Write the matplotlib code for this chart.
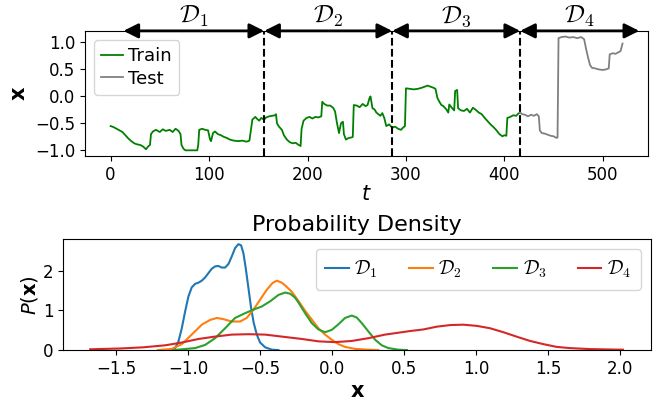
import numpy as np
import matplotlib.pyplot as plt
from matplotlib.font_manager import FontProperties

# time series (train part, then test part)
train_t = [0, 3, 6, 9, 12, 15, 18, 21, 24, 27, 30, 33, 36, 38, 40, 41, 43, 46, 50, 53,
           56, 60, 63, 66, 69, 71, 72, 74, 76, 88, 89, 90, 93, 96, 99, 101, 102, 104, 106, 109,
           112, 115, 118, 121, 125, 130, 134, 138, 141, 143, 144, 147, 149, 151, 153, 156, 158, 161, 164, 167,
           168, 169, 171, 174, 176, 179, 182, 185, 188, 191, 193, 194, 196, 199, 202, 205, 208, 211, 214, 215,
           217, 220, 223, 226, 228, 230, 232, 234, 236, 237, 239, 242, 245, 246, 247, 250, 253, 256, 259, 261,
           263, 264, 266, 268, 270, 272, 274, 276, 278, 280, 283, 286, 289, 292, 295, 297, 299, 300, 304, 308,
           312, 316, 319, 322, 325, 328, 330, 332, 334, 336, 338, 341, 343, 344, 347, 349, 350, 352, 353, 356,
           359, 362, 365, 368, 371, 374, 377, 380, 383, 386, 389, 392, 395, 398, 400, 402, 403, 406, 409, 412,
           414, 416]
train_x = [-0.55, -0.57, -0.60, -0.63, -0.66, -0.72, -0.78, -0.83, -0.87, -0.89, -0.90, -0.93, -0.98, -0.93, -0.90, -0.70, -0.65, -0.62, -0.66, -0.61,
           -0.64, -0.62, -0.66, -0.60, -0.64, -0.70, -0.90, -0.97, -1.00, -1.00, -0.90, -0.62, -0.60, -0.62, -0.63, -0.80, -0.83, -0.68, -0.65, -0.70,
           -0.72, -0.75, -0.77, -0.80, -0.82, -0.83, -0.82, -0.84, -0.82, -0.55, -0.43, -0.38, -0.42, -0.45, -0.40, -0.43, -0.39, -0.37, -0.36, -0.35,
           -0.33, -0.50, -0.56, -0.62, -0.72, -0.80, -0.85, -0.87, -0.86, -0.90, -0.92, -0.60, -0.45, -0.40, -0.38, -0.41, -0.38, -0.39, -0.37, -0.10,
           -0.14, -0.17, -0.17, -0.21, -0.28, -0.50, -0.68, -0.50, -0.47, -0.70, -0.80, -0.77, -0.76, -0.75, -0.16, -0.17, -0.20, -0.14, -0.18, -0.16,
           -0.03, 0.00, -0.22, -0.24, -0.30, -0.33, -0.36, -0.31, -0.40, -0.55, -0.52, -0.58, -0.56, -0.60, -0.62, -0.58, -0.55, 0.15, 0.14, 0.13,
           0.14, 0.16, 0.18, 0.20, 0.18, 0.16, 0.14, -0.03, -0.10, -0.16, -0.18, -0.24, -0.30, -0.15, -0.22, -0.26, 0.10, 0.12, -0.22, -0.26,
           -0.27, -0.23, -0.30, -0.21, -0.25, -0.30, -0.33, -0.40, -0.46, -0.52, -0.57, -0.63, -0.70, -0.74, -0.72, -0.73, -0.40, -0.38, -0.35, -0.36,
           -0.32, -0.30]
test_t = [416, 418, 421, 424, 427, 430, 433, 435, 436, 438, 441, 444, 447, 450, 453, 454, 455, 458, 462, 466,
          470, 474, 478, 481, 483, 485, 487, 489, 492, 496, 500, 503, 506, 507, 510, 513, 516, 518, 520]
test_x = [-0.30, -0.33, -0.34, -0.37, -0.34, -0.36, -0.33, -0.37, -0.63, -0.68, -0.69, -0.71, -0.73, -0.74, -0.77, -0.76, 1.08, 1.10, 1.11, 1.09,
          1.10, 1.08, 1.10, 1.06, 0.88, 0.72, 0.58, 0.53, 0.52, 0.50, 0.49, 0.50, 0.52, 0.78, 0.80, 0.79, 0.82, 0.84, 0.98]

bounds = [156, 286, 416]
arrow_ends = [13, 156, 286, 416, 537]
seg_labels = [r'$\mathcal{D}_1$', r'$\mathcal{D}_2$', r'$\mathcal{D}_3$', r'$\mathcal{D}_4$']

# density curves
d1_x = [-1.12, -1.09, -1.067, -1.044, -1.021, -0.998, -0.975, -0.951, -0.928, -0.905, -0.882, -0.859, -0.836, -0.8125,
        -0.79, -0.766, -0.743, -0.72, -0.697, -0.674, -0.651, -0.632, -0.616, -0.60, -0.581, -0.5625, -0.544, -0.523,
        -0.50, -0.465, -0.419, -0.373]
d1_y = [0.0, 0.05, 0.22, 0.55, 0.97, 1.35, 1.58, 1.67, 1.70, 1.75, 1.83, 1.94, 2.05, 2.11,
        2.12, 2.08, 2.08, 2.17, 2.36, 2.57, 2.67, 2.64, 2.44, 2.07, 1.56, 1.06, 0.68, 0.39,
        0.19, 0.07, 0.01, 0.0]
d2_x = [-1.21, -1.113, -1.044, -0.975, -0.905, -0.847, -0.80, -0.755, -0.697, -0.639, -0.593, -0.546, -0.50, -0.454,
        -0.414, -0.384, -0.35, -0.326, -0.28, -0.234, -0.1875, -0.141, -0.095, -0.049, -0.002, 0.044, 0.09, 0.16,
        0.252, 0.32]
d2_y = [0.0, 0.03, 0.15, 0.39, 0.64, 0.76, 0.81, 0.78, 0.72, 0.72, 0.81, 1.02, 1.27, 1.52,
        1.69, 1.75, 1.70, 1.63, 1.47, 1.24, 0.99, 0.77, 0.55, 0.39, 0.26, 0.15, 0.08, 0.03,
        0.01, 0.0]
d3_x = [-1.10, -0.951, -0.882, -0.8125, -0.743, -0.674, -0.604, -0.546, -0.488, -0.43, -0.373, -0.326, -0.29, -0.257,
        -0.234, -0.1875, -0.141, -0.095, -0.049, -0.002, 0.044, 0.09, 0.137, 0.171, 0.206, 0.252, 0.299, 0.345,
        0.391, 0.46, 0.52]
d3_y = [0.0, 0.05, 0.13, 0.30, 0.55, 0.81, 0.93, 1.02, 1.10, 1.23, 1.39, 1.45, 1.42, 1.32,
        1.20, 0.93, 0.68, 0.52, 0.45, 0.51, 0.65, 0.81, 0.87, 0.82, 0.68, 0.47, 0.26, 0.12,
        0.05, 0.01, 0.0]
d4_x = [-1.68, -1.47, -1.31, -1.16, -1.044, -0.928, -0.8125, -0.697, -0.58, -0.465, -0.35, -0.21, -0.095, 0.02,
        0.137, 0.252, 0.368, 0.484, 0.542, 0.634, 0.727, 0.819, 0.912, 1.005, 1.097, 1.19, 1.28, 1.375,
        1.467, 1.56, 1.65, 1.79, 1.93, 2.02]
d4_y = [0.02, 0.04, 0.07, 0.12, 0.19, 0.28, 0.34, 0.39, 0.40, 0.39, 0.34, 0.28, 0.22, 0.20,
        0.23, 0.30, 0.39, 0.45, 0.48, 0.52, 0.59, 0.63, 0.64, 0.61, 0.55, 0.45, 0.34, 0.23,
        0.15, 0.08, 0.05, 0.025, 0.015, 0.01]

fig = plt.figure(figsize=(6.54, 4.01), dpi=100)
ax1 = fig.add_axes([0.130, 0.611, 0.861, 0.312])
ax2 = fig.add_axes([0.097, 0.127, 0.898, 0.276])

ax1.plot(train_t, train_x, color='green', lw=1.3, label='Train')
ax1.plot(test_t, test_x, color='gray', lw=1.3, label='Test')
for b in bounds:
    ax1.axvline(b, color='black', ls='--', lw=1.5)
ax1.set_xlim(-26, 546)
ax1.set_ylim(-1.105, 1.215)
ax1.set_yticks([-1.0, -0.5, 0.0, 0.5, 1.0])
ax1.tick_params(labelsize=12)
ax1.set_xlabel(r'$t$', fontsize=15, labelpad=0)
ax1.set_ylabel(r'$\mathbf{x}$', fontsize=15)
ax1.legend(loc='upper left', fontsize=13, handlelength=1.2, handletextpad=0.3,
           borderaxespad=0.5, labelspacing=0.25, borderpad=0.4)

ytop = ax1.get_ylim()[1]
for i in range(4):
    a, b = arrow_ends[i], arrow_ends[i + 1]
    ax1.annotate('', xy=(a, ytop), xytext=(b, ytop), annotation_clip=False,
                 arrowprops=dict(arrowstyle='<|-|>', color='black', lw=2,
                                 mutation_scale=22, shrinkA=0, shrinkB=0))
    ax1.text((a + b) / 2, ytop + 0.03, seg_labels[i], ha='center', va='bottom',
             fontsize=18, math_fontfamily='cm')

ax2.plot(d1_x, d1_y, color='C0', lw=1.5, label=seg_labels[0])
ax2.plot(d2_x, d2_y, color='C1', lw=1.5, label=seg_labels[1])
ax2.plot(d3_x, d3_y, color='C2', lw=1.5, label=seg_labels[2])
ax2.plot(d4_x, d4_y, color='C3', lw=1.5, label=seg_labels[3])
ax2.set_xlim(-1.866, 2.213)
ax2.set_ylim(0, 2.79)
ax2.set_xticks([-1.5, -1.0, -0.5, 0.0, 0.5, 1.0, 1.5, 2.0])
ax2.set_yticks([0, 1, 2])
ax2.tick_params(labelsize=12)
ax2.set_title('Probability Density', fontsize=16)
ax2.set_xlabel(r'$\mathbf{x}$', fontsize=15, labelpad=2)
ax2.set_ylabel(r'$P(\mathbf{x})$', fontsize=14, labelpad=2)
ax2.legend(loc='upper right', ncol=4, prop=FontProperties(size=14, math_fontfamily='cm'),
           handlelength=1.2, handletextpad=0.3, columnspacing=1.6, borderpad=0.5)

fig.savefig('out.png', dpi=100)
